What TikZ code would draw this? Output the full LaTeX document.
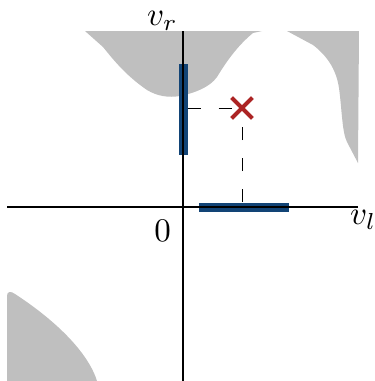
\documentclass[tikz,border=0pt]{standalone}
\usetikzlibrary{positioning,shapes.misc}
\definecolor{barblue}{RGB}{18,68,118}
\definecolor{crossred}{RGB}{172,36,36}
\tikzset{
  region/.style={fill=black!25,draw=none},
  axis/.style={line width=1.2pt},
  barline/.style={line width=9pt,draw=barblue},
  proj/.style={line width=0.8pt,dash pattern=on 13pt off 18pt},
  target/.style={cross out,draw=crossred,line width=3.6pt,minimum size=17pt,inner sep=0pt},
  axlabel/.style={inner sep=0pt}
}
\newcommand{\biglabel}[1]{\scalebox{3.3}{$#1$}}

\begin{document}
\begin{tikzpicture}[x=1pt,y=-1pt]
\useasboundingbox (0,0) rectangle (375,381);

% shaded regions
\fill[region] (85,31) -- (103,47) .. controls (112,58) and (125,75) .. (147,90)
  .. controls (157,96) and (168,98) .. (180,96)
  .. controls (195,93) and (210,87) .. (217,77)
  .. controls (225,64) and (236,47) .. (253,33) -- (262,31) -- cycle;
\fill[region] (287,31) -- (313,45) .. controls (326,55) and (336,68) .. (339,88)
  .. controls (342,110) and (342,132) .. (347,142) -- (358,163) -- (359,31) -- cycle;
\fill[region] (7,381) -- (7,296) .. controls (7,291) and (11,291) .. (15,294)
  .. controls (55,320) and (88,352) .. (97,381) -- cycle;

% axis ends
\coordinate (xmin) at (7,207);
\coordinate (xmax) at (358,207);
\coordinate (ymin) at (183,381);
\coordinate (ymax) at (183,31);
\coordinate (origin) at (183,207);

% intervals on the axes
\coordinate (vtop) at (183,64);
\coordinate (vbot) at (183,155);
\coordinate (hleft) at (199,207);
\coordinate (hright) at (289,207);
\draw[barline] (vtop) -- (vbot);
\draw[barline] (hleft) -- (hright);

% point and its projections
\node[target] (pt) at (242,108) {};
\draw[proj] (vtop |- pt) ++(4.5,0) coordinate (vfoot) -- (pt.center);
\coordinate (hfoot) at (pt |- hleft);
\draw[proj] ([yshift=5pt]hfoot) -- (pt.center);
\node[target] at (pt) {};

% axes
\draw[axis] (xmin) -- (xmax);
\draw[axis] (ymin) -- (ymax);

\node[axlabel,anchor=south east] (vr) at ([xshift=-5pt,yshift=0pt]ymax) {\biglabel{v_r}};
\node[axlabel,anchor=north west] (vl) at ([xshift=-8pt,yshift=-3pt]xmax) {\biglabel{v_l}};
\node[axlabel,anchor=north east] (zero) at ([xshift=-12pt,yshift=-13pt]origin) {\biglabel{0}};
\end{tikzpicture}
\end{document}
